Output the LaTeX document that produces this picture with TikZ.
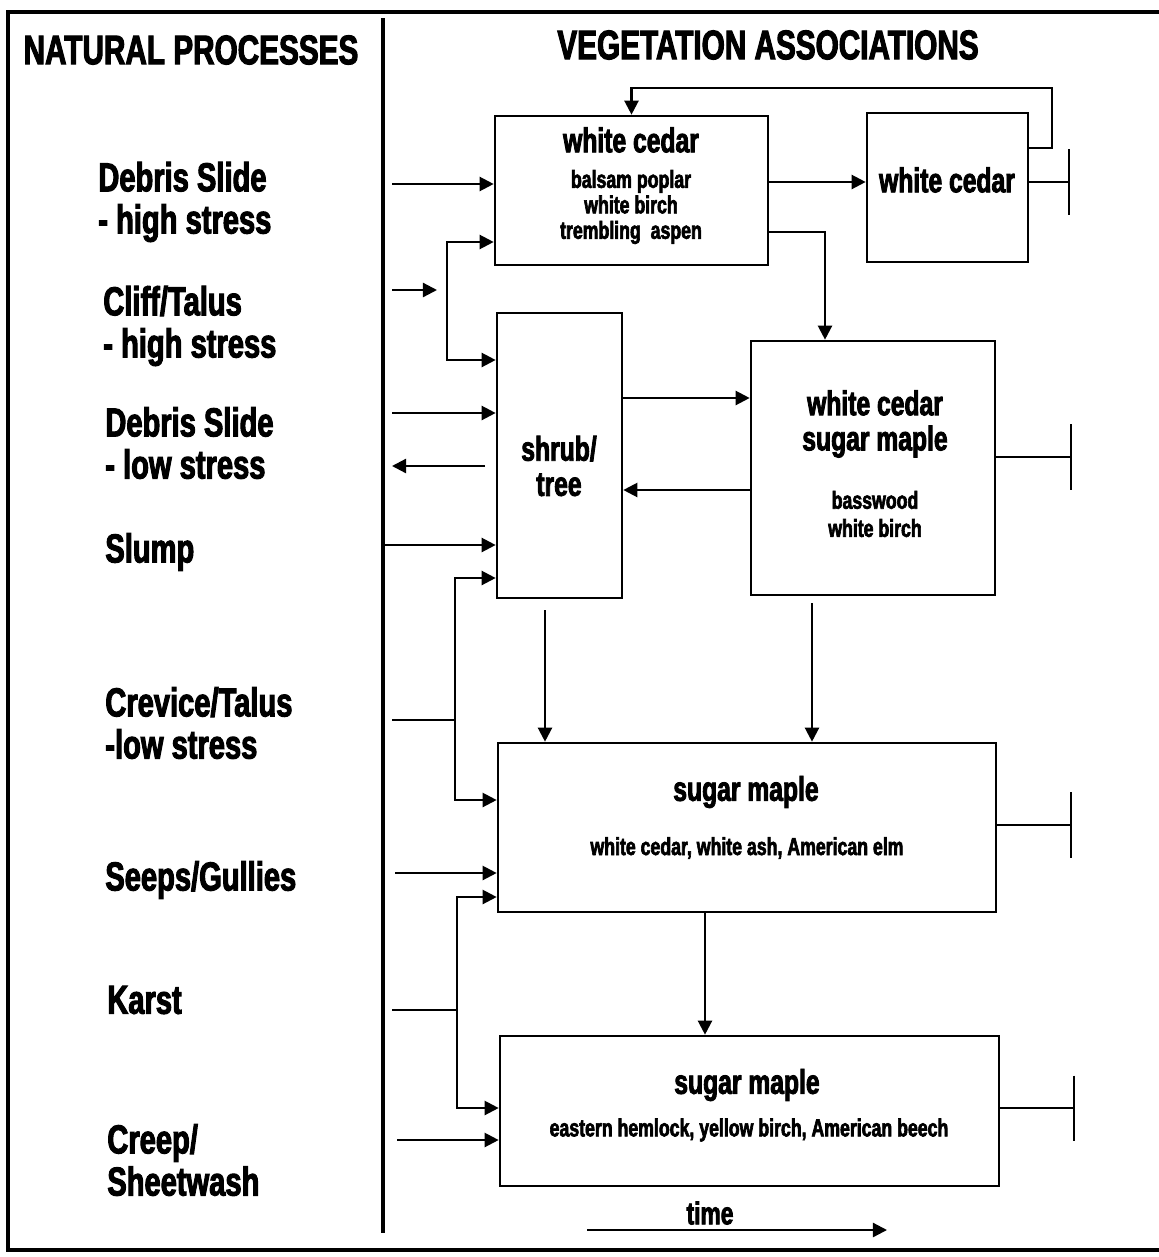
\documentclass[tikz,border=0pt]{standalone}
\usepackage{fontspec}
\setmainfont{Liberation Sans}
\newfontfamily\heavy[FakeStretch=0.72,FakeBold=2.5]{Liberation Sans Bold}
\usetikzlibrary{arrows.meta,calc}
\tikzset{
  head/.style={font=\heavy\fontsize{23.5}{25}\selectfont, inner sep=0pt},
  proc/.style={font=\heavy\fontsize{23}{24}\selectfont, align=left, anchor=west, inner sep=0pt},
  vbox/.style={draw, line width=1.5pt, inner sep=0pt},
  ttl/.style={font=\heavy\fontsize{19.5}{20.5}\selectfont, align=center, inner sep=0pt},
  sub/.style={font=\heavy\fontsize{14}{14.5}\selectfont, align=center, inner sep=0pt},
  ar/.style={-{Triangle[length=8pt,width=8pt]}, line width=1.3pt},
  ln/.style={line width=1.3pt},
  endbar/.style={-{Bar[width=37pt]}, line width=1.3pt}
}

\begin{document}
\begin{tikzpicture}[x=0.2mm,y=-0.2mm]
  \useasboundingbox (0,0) rectangle (1159,1257);
  \draw[line width=2pt] (1175,12) -- (8,12) -- (8,1250) -- (1175,1250);
  \draw[line width=2.4pt] (383,18) -- (383,1233);

  \node[head] (nat) at (191,50) {NATURAL PROCESSES};
  \node[head] (veg) at (768,45) {VEGETATION ASSOCIATIONS};

  % natural processes
  \foreach \x/\y/\n/\t in {98/202/p1/{Debris Slide\\- high stress}, 103/326/p2/{Cliff/Talus\\- high stress},
      105/443/p3/{Debris Slide\\- low stress}, 105/552/p4/{Slump}, 105/723/p5/{Crevice/Talus\\-low stress},
      105/880/p6/{Seeps/Gullies}, 107/1000/p7/{Karst}, 107/1160/p8/{Creep/\\Sheetwash}} {
    \node[proc] (\n) at (\x,\y) {\t};
  }

  % vegetation associations
  \node[vbox, minimum width=54.6mm, minimum height=29.8mm] (wca) at (631.5,190.5) {};
  \node[vbox, minimum width=32.2mm, minimum height=29.8mm] (wcb) at (947.5,187.5) {};
  \node[vbox, minimum width=25mm, minimum height=57mm] (shrub) at (559.5,455.5) {};
  \node[vbox, minimum width=48.8mm, minimum height=50.8mm] (wcsm) at (873,468) {};
  \node[vbox, minimum width=99.6mm, minimum height=33.8mm] (sma) at (747,827.5) {};
  \node[vbox, minimum width=99.8mm, minimum height=30mm] (smb) at (749.5,1111) {};

  \node[ttl] (wcat) at (631,140) {white cedar};
  \node[sub] (wcas) at (631,207) {balsam poplar\\white birch\\trembling\ \ aspen};
  \node[ttl] (wcbt) at (947,180) {white cedar};
  \node[ttl, font=\heavy\fontsize{19.5}{20}\selectfont] (shrubt) at (559,466) {shrub/\\tree};
  \node[ttl, font=\heavy\fontsize{19.5}{20}\selectfont] (wcsmt) at (875,424) {white cedar\\sugar maple};
  \node[sub, font=\heavy\fontsize{14}{16}\selectfont] (wcsms) at (875,514) {basswood\\white birch};
  \node[ttl] (smat) at (746,792) {sugar maple};
  \node[sub] (smas) at (747,848) {white cedar, white ash, American elm};
  \node[ttl] (smbt) at (747,1085) {sugar maple};
  \node[sub] (smbs) at (749,1130) {eastern hemlock, yellow birch, American beech};

  % inputs from the natural processes
  \coordinate (d1) at (392,184);
  \coordinate (d2) at (392,290);
  \coordinate (b1) at (437,290);
  \coordinate (b1t) at (447,242);
  \coordinate (b1b) at (447,360);
  \coordinate (d3) at (392,413);
  \coordinate (u3) at (485,466);
  \coordinate (d3r) at (392,466);
  \coordinate (d4) at (385,545);
  \coordinate (b2t) at (455,578);
  \coordinate (b2b) at (455,800);
  \coordinate (d5) at (392,720);
  \coordinate (d6) at (395,873);
  \coordinate (b3t) at (457,897);
  \coordinate (b3b) at (457,1108);
  \coordinate (d7) at (392,1010);
  \coordinate (d8) at (397,1140);

  \draw[ar] (d1) -- (d1 -| wca.west);
  \draw[ar] (d2) -- (b1);
  \draw[ar] (b1b) -- (b1t) -- (b1t -| wca.west);
  \draw[ar] (b1t) -- (b1b) -- (b1b -| shrub.west);
  \draw[ar] (d3) -- (d3 -| shrub.west);
  \draw[ar] (u3) -- (d3r);
  \draw[ar] (d4) -- (d4 -| shrub.west);
  \draw[ln] (d5) -- (d5 -| b2t);
  \draw[ar] (b2b) -- (b2t) -- (b2t -| shrub.west);
  \draw[ar] (b2t) -- (b2b) -- (b2b -| sma.west);
  \draw[ar] (d6) -- (d6 -| sma.west);
  \draw[ln] (d7) -- (d7 -| b3t);
  \draw[ar] (b3b) -- (b3t) -- (b3t -| sma.west);
  \draw[ar] (b3t) -- (b3b) -- (b3b -| smb.west);
  \draw[ar] (d8) -- (d8 -| smb.west);

  % succession
  \coordinate (fb1) at (1052,148);
  \coordinate (fb) at (1052,88);
  \coordinate (r1) at (1070,182);
  \coordinate (ad) at (825,232);
  \coordinate (cd) at (700,398);
  \coordinate (dc) at (700,490);
  \coordinate (ce) at (545,610);
  \coordinate (de) at (812,603);
  \coordinate (ef) at (705,912);

  \draw[ar] (r1 -| wca.east) -- (r1 -| wcb.west);
  \draw[ar] (fb1 -| wcb.east) -- (fb1) -- (fb) -- (fb -| wca.north) -- (wca.north);
  \draw[ar] (ad -| wca.east) -- (ad) -- (ad |- wcsm.north);
  \draw[ar] (cd -| shrub.east) -- (cd -| wcsm.west);
  \draw[ar] (dc -| wcsm.west) -- (dc -| shrub.east);
  \draw[ar] (ce) -- (ce |- sma.north);
  \draw[ar] (de) -- (de |- sma.north);
  \draw[ar] (ef) -- (ef |- smb.north);

  \foreach \n/\x/\y in {wcb/1070/182, wcsm/1072/457, sma/1072/825, smb/1075/1108} {
    \coordinate (e\n) at (\x,\y);
    \draw[endbar] (e\n -| \n.east) -- (e\n);
  }

  \node[ttl, font=\heavy\fontsize{18}{20}\selectfont] (time) at (710,1213) {time};
  \coordinate (t0) at (587,1230);
  \coordinate (t1) at (887,1230);
  \draw[ar] (t0) -- (t1);
\end{tikzpicture}
\end{document}
